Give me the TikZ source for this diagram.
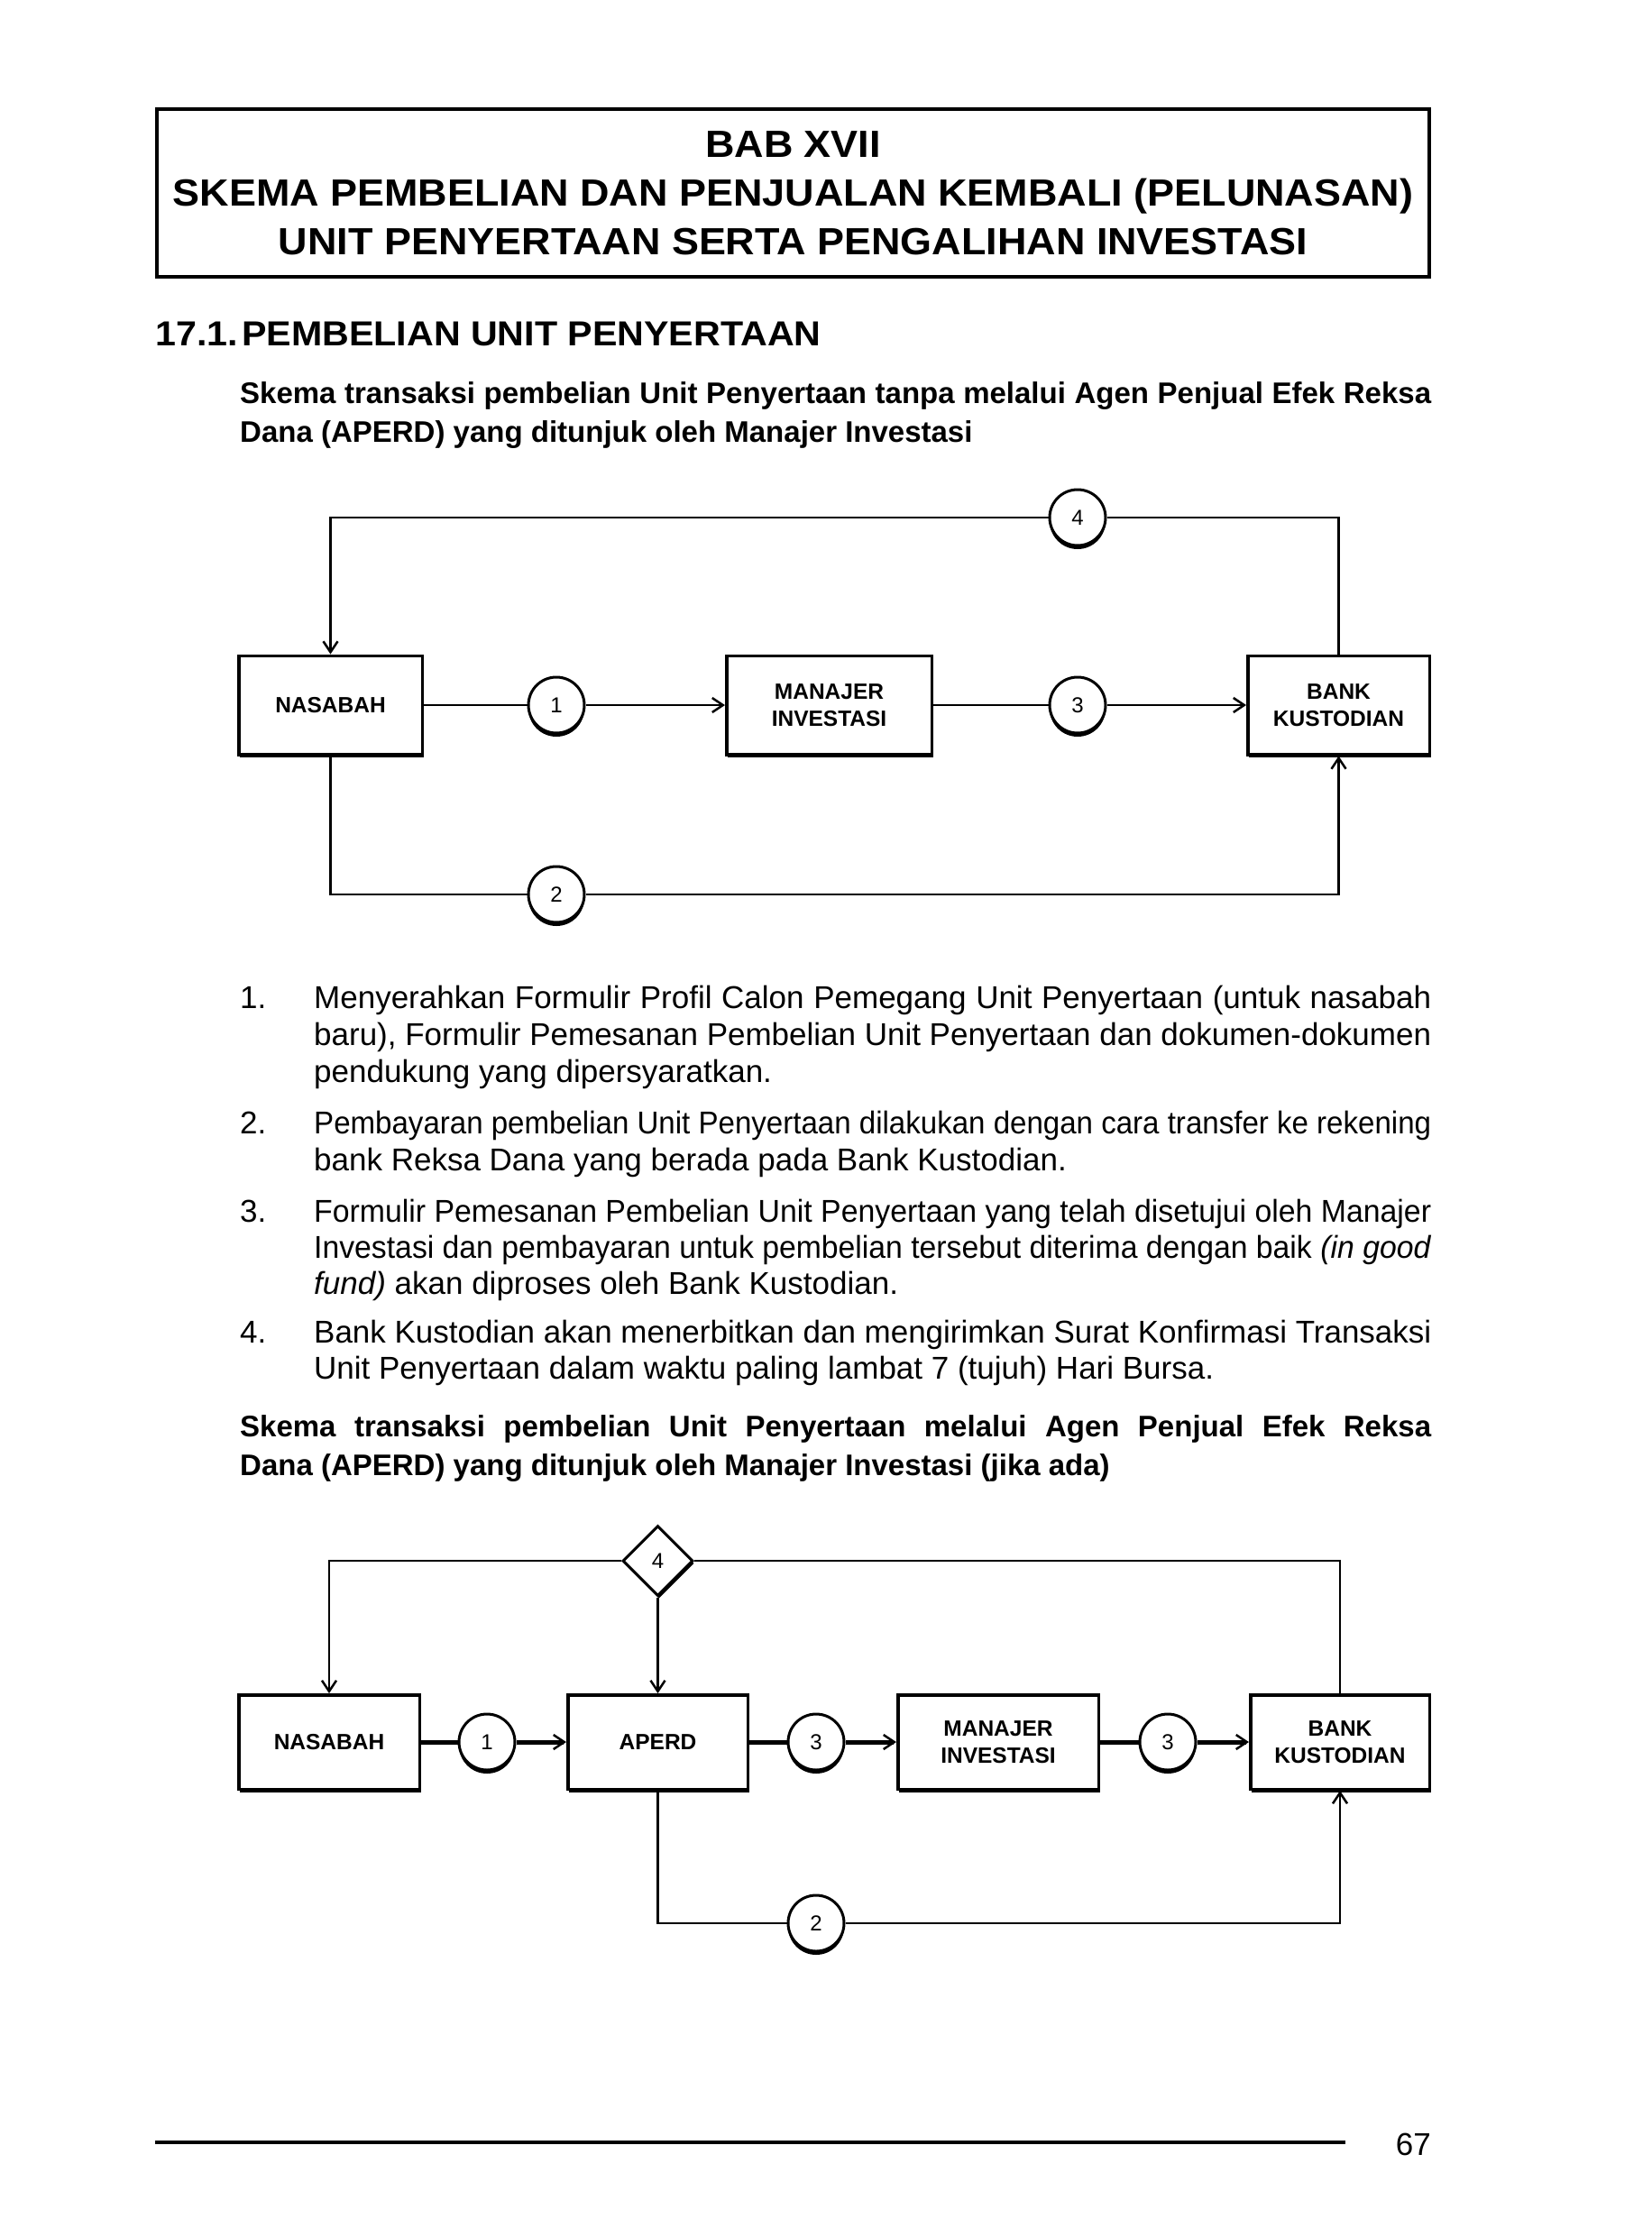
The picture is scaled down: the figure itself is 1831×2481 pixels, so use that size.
\documentclass[tikz,border=0pt]{standalone}
\usepackage{fontspec}
\usepackage{graphicx}
\setmainfont{Liberation Sans}
\newfontfamily\headfont{Liberation Sans}[FakeStretch=1.07]
\usetikzlibrary{positioning,arrows.meta,shapes.geometric,shadows}

% one justified line: squeezed when too long, spaces stretched when short
\newsavebox\linebox
\newlength\fitw
\newcommand\fitline[2]{\setlength\fitw{#1}\sbox\linebox{#2}%
  \ifdim\wd\linebox>\fitw\resizebox{\fitw}{\ht\linebox}{#2}\else\makebox[\fitw][s]{#2}\fi}

\tikzset{
  titlebox/.style={draw, line width=4pt, minimum width=1411pt, minimum height=186pt, inner sep=0pt, align=center, font=\headfont\bfseries\fontsize{42}{54}\selectfont},
  txt/.style={inner sep=0pt, anchor=base west, font=\fontsize{35}{40}\selectfont},
  subtxt/.style={inner sep=0pt, anchor=base west, font=\bfseries\fontsize{33}{43}\selectfont},
  entity/.style={draw, line width=3.5pt, fill=white, inner sep=0pt, align=center, font=\bfseries\fontsize{24.5}{30}\selectfont, drop shadow={shadow xshift=1.5pt, shadow yshift=-3.5pt, opacity=1, fill=black}},
  stepno/.style={draw, circle, line width=3pt, fill=white, minimum size=62pt, inner sep=0pt, font=\fontsize{24}{24}\selectfont, drop shadow={shadow xshift=0pt, shadow yshift=-4pt, opacity=1, fill=black}},
  stepdia/.style={draw, diamond, aspect=1, line width=3pt, fill=white, minimum width=78pt, minimum height=78pt, inner sep=0pt, font=\fontsize{24}{24}\selectfont, drop shadow={shadow xshift=1.5pt, shadow yshift=-3pt, opacity=1, fill=black}},
  link/.style={line width=2.5pt},
  linkthick/.style={line width=5pt},
  arr/.style={-{Straight Barb[length=12pt,width=16pt,line width=2.5pt]}}
}

\begin{document}
\begin{tikzpicture}[x=1pt,y=-1pt]
\path[fill=white] (0,0) rectangle (1831,2481);
\useasboundingbox (0,0) rectangle (1831,2481);

% judul bab
\node[titlebox] (judul) at (879.5,214) {BAB XVII\\SKEMA PEMBELIAN DAN PENJUALAN KEMBALI (PELUNASAN)\\UNIT PENYERTAAN SERTA PENGALIHAN INVESTASI};

\node[inner sep=0pt, anchor=base west, font=\headfont\bfseries\fontsize{38.5}{40}\selectfont] (secno) at (172,383) {17.1.};
\node[inner sep=0pt, anchor=base west, font=\headfont\bfseries\fontsize{38.5}{40}\selectfont] (sec) at (268,383) {PEMBELIAN UNIT PENYERTAAN};

\node[subtxt] (s1a) at (266,447) {\fitline{1321pt}{Skema transaksi pembelian Unit Penyertaan tanpa melalui Agen Penjual Efek Reksa}};
\node[subtxt] (s1b) at (266,490) {Dana (APERD) yang ditunjuk oleh Manajer Investasi};

% skema 1
\node[entity, minimum width=203.5pt, minimum height=109.5pt] (nas1) at (366.5,782) {NASABAH};
\node[entity, minimum width=227.5pt, minimum height=109.5pt, right=334pt of nas1] (mi1) {MANAJER\\INVESTASI};
\node[entity, minimum width=201.5pt, minimum height=109.5pt, right=347pt of mi1] (bk1) {BANK\\KUSTODIAN};

\node[stepno] (c1) at (617,782) {1};
\node[stepno] (c3) at (1195,782) {3};
\node[stepno] (c4) at (1195,574) {4};
\node[stepno] (c2) at (617,992) {2};

\draw[link] (nas1) -- (c1);
\draw[link,arr] (c1) -- (mi1);
\draw[link] (mi1) -- (c3);
\draw[link,arr] (c3) -- (bk1);
\draw[link] (bk1.north) |- (c4.east);
\draw[link,arr] (c4.west) -| (nas1.north);
\draw[link] (nas1.south) |- (c2.west);
\draw[link,arr] (c2.east) -| (bk1.south);

% keterangan
\node[txt] (n1) at (266,1118) {1.};
\node[txt] (i1a) at (348,1118) {\fitline{1239pt}{Menyerahkan Formulir Profil Calon Pemegang Unit Penyertaan (untuk nasabah}};
\node[txt] (i1b) at (348,1159) {\fitline{1239pt}{baru), Formulir Pemesanan Pembelian Unit Penyertaan dan dokumen-dokumen}};
\node[txt] (i1c) at (348,1200) {pendukung yang dipersyaratkan.};

\node[txt] (n2) at (266,1257) {2.};
\node[txt] (i2a) at (348,1257) {\fitline{1239pt}{Pembayaran pembelian Unit Penyertaan dilakukan dengan cara transfer ke rekening}};
\node[txt] (i2b) at (348,1298) {bank Reksa Dana yang berada pada Bank Kustodian.};

\node[txt] (n3) at (266,1355) {3.};
\node[txt] (i3a) at (348,1355) {\fitline{1239pt}{Formulir Pemesanan Pembelian Unit Penyertaan yang telah disetujui oleh Manajer}};
\node[txt] (i3b) at (348,1395) {\fitline{1239pt}{Investasi dan pembayaran untuk pembelian tersebut diterima dengan baik \textit{(in good}}};
\node[txt] (i3c) at (348,1435) {\textit{fund)} akan diproses oleh Bank Kustodian.};

\node[txt] (n4) at (266,1489) {4.};
\node[txt] (i4a) at (348,1489) {\fitline{1239pt}{Bank Kustodian akan menerbitkan dan mengirimkan Surat Konfirmasi Transaksi}};
\node[txt] (i4b) at (348,1529) {Unit Penyertaan dalam waktu paling lambat 7 (tujuh) Hari Bursa.};

\node[subtxt] (s2a) at (266,1593) {\fitline{1321pt}{Skema transaksi pembelian Unit Penyertaan melalui Agen Penjual Efek Reksa}};
\node[subtxt] (s2b) at (266,1636) {Dana (APERD) yang ditunjuk oleh Manajer Investasi (jika ada)};

% skema 2
\node[entity, minimum width=200.5pt, minimum height=104.5pt] (nas2) at (365,1932) {NASABAH};
\node[entity, minimum width=199.5pt, minimum height=104.5pt, right=161pt of nas2] (ap2) {APERD};
\node[entity, minimum width=222.5pt, minimum height=104.5pt, right=163pt of ap2] (mi2) {MANAJER\\INVESTASI};
\node[entity, minimum width=198.5pt, minimum height=104.5pt, right=165pt of mi2] (bk2) {BANK\\KUSTODIAN};

\node[stepno] (d1) at (540,1932) {1};
\node[stepno] (d3a) at (905,1932) {3};
\node[stepno] (d3b) at (1295,1932) {3};
\node[stepdia] (d4) at (ap2 |- 0,1731) {4};
\node[stepno] (d2) at (905,2133) {2};

\draw[linkthick] (nas2) -- (d1);
\draw[linkthick,arr] (d1) -- (ap2);
\draw[linkthick] (ap2) -- (d3a);
\draw[linkthick,arr] (d3a) -- (mi2);
\draw[linkthick] (mi2) -- (d3b);
\draw[linkthick,arr] (d3b) -- (bk2);
\draw[link] (bk2.north) |- (d4.east);
\draw[link,arr] (d4.west) -| (nas2.north);
\draw[link,arr] (d4.south) -- (ap2.north);
\draw[link] (ap2.south) |- (d2.west);
\draw[link,arr] (d2.east) -| (bk2.south);

% kaki halaman
\coordinate (fl) at (172,2376);
\coordinate (fr) at (1492,2376);
\draw[line width=4.5pt] (fl) -- (fr);
\node[txt, anchor=base east] (hal) at (1587,2390) {67};
\end{tikzpicture}
\end{document}
